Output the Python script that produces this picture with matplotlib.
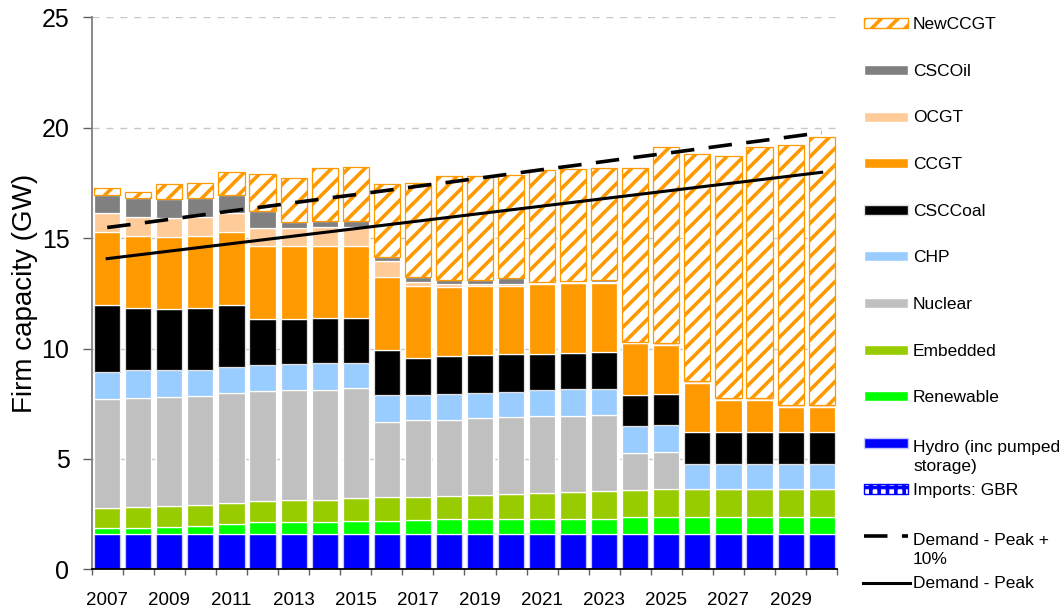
import matplotlib.pyplot as plt
import numpy as np
from matplotlib.patches import Rectangle


years = list(range(2007, 2031))

# capacity by type (GW), bottom of the stack first
imports_gbr = [0.0] * 24
hydro = [1.6] * 24
renewable = [0.26, 0.26, 0.30, 0.35, 0.44, 0.56, 0.56, 0.56, 0.60, 0.60, 0.63, 0.66,
             0.66, 0.66, 0.69, 0.69, 0.69, 0.76, 0.76, 0.76, 0.76, 0.76, 0.76, 0.76]
embedded = [0.90, 0.95, 0.95, 0.95, 0.96, 0.93, 0.99, 0.99, 1.01, 1.06, 1.03, 1.06,
            1.10, 1.15, 1.16, 1.22, 1.25, 1.23, 1.26, 1.29, 1.29, 1.29, 1.29, 1.29]
nuclear = [4.97, 4.97, 4.97, 4.97, 4.99, 5.00, 4.97, 4.97, 5.02, 3.42, 3.48, 3.46,
           3.48, 3.48, 3.48, 3.42, 3.44, 1.69, 1.70, 0.0, 0.0, 0.0, 0.0, 0.0]
chp = [1.22, 1.23, 1.19, 1.17, 1.19, 1.18, 1.19, 1.24, 1.13, 1.22, 1.16, 1.18,
       1.15, 1.16, 1.18, 1.22, 1.20, 1.20, 1.21, 1.11, 1.11, 1.11, 1.11, 1.11]
csc_coal = [3.00, 2.84, 2.79, 2.81, 2.81, 2.08, 2.04, 2.03, 2.03, 2.05, 1.69, 1.68,
            1.70, 1.69, 1.64, 1.65, 1.66, 1.40, 1.40, 1.47, 1.47, 1.47, 1.47, 1.47]
ccgt = [3.34, 3.26, 3.27, 3.26, 3.30, 3.27, 3.27, 3.27, 3.27, 3.28, 3.26, 3.14,
        3.13, 3.11, 3.18, 3.17, 3.12, 2.37, 2.24, 2.23, 1.46, 1.46, 1.12, 1.12]
ocgt = [0.86, 0.86, 0.86, 0.86, 0.86, 0.85, 0.85, 0.86, 0.86, 0.72, 0.18, 0.13,
        0.09, 0.09, 0.03, 0.03, 0.06, 0.02, 0.08, 0.05, 0.06, 0.06, 0.08, 0.08]
csc_oil = [0.82, 0.85, 0.82, 0.85, 0.82, 0.77, 0.24, 0.24, 0.24, 0.21, 0.23, 0.21,
           0.21, 0.26, 0.04, 0.04, 0.06, 0.02, 0.02, 0.02, 0.02, 0.02, 0.02, 0.02]
new_ccgt = [0.30, 0.28, 0.70, 0.67, 1.02, 1.66, 2.01, 2.41, 2.46, 3.29, 4.23, 4.67,
            4.70, 4.67, 5.07, 5.10, 5.09, 7.88, 8.85, 10.28, 10.96, 11.35, 11.76, 12.14]

demand_peak = [14.07, 14.24, 14.41, 14.58, 14.75, 14.92, 15.09, 15.26, 15.43, 15.60,
               15.77, 15.94, 16.11, 16.28, 16.45, 16.62, 16.79, 16.96, 17.13, 17.30,
               17.47, 17.64, 17.81, 17.98]
demand_peak_10 = [15.48, 15.66, 15.85, 16.04, 16.23, 16.41, 16.60, 16.79, 16.97, 17.16,
                  17.35, 17.53, 17.72, 17.91, 18.10, 18.28, 18.47, 18.66, 18.84, 19.03,
                  19.22, 19.40, 19.59, 19.78]

ORANGE = "#FF9900"
# (label, values, face, edge, hatch)
SERIES = [
    ("Imports: GBR", imports_gbr, "white", "#0000FF", "++"),
    ("Hydro (inc pumped\nstorage)", hydro, "#0000FF", "#C8C8FF", None),
    ("Renewable", renewable, "#00FF00", "white", None),
    ("Embedded", embedded, "#99CC00", "white", None),
    ("Nuclear", nuclear, "#C0C0C0", "white", None),
    ("CHP", chp, "#99CCFF", "white", None),
    ("CSCCoal", csc_coal, "#000000", "#E0E0E0", None),
    ("CCGT", ccgt, ORANGE, "white", None),
    ("OCGT", ocgt, "#FFCC99", "white", None),
    ("CSCOil", csc_oil, "#808080", "white", None),
    ("NewCCGT", new_ccgt, "white", ORANGE, "//"),
]
DASHED_LW = 2.6
SOLID_LW = 2.2
LEGEND_FONT = 12.5

plt.rcParams["font.family"] = ["Liberation Sans", "DejaVu Sans"]
plt.rcParams["hatch.linewidth"] = 2.6

fig = plt.figure(figsize=(10.64, 6.10), dpi=100)
ax = fig.add_axes([91.7 / 1064, 40.7 / 610, 745.5 / 1064, 552.0 / 610])

x = np.arange(len(years))
bottom = np.zeros(len(years))
for label, values, face, edge, hatch in SERIES:
    vals = np.array(values)
    lw = 0 if label.startswith("Imports") else 0.9
    ax.bar(x, vals, width=0.84, bottom=bottom, color=face, edgecolor=edge,
           hatch=hatch, linewidth=lw, zorder=2)
    bottom += vals

ax.plot(x, demand_peak_10, color="black", linewidth=DASHED_LW, dashes=(6.5, 4.0), zorder=3)
ax.plot(x, demand_peak, color="black", linewidth=SOLID_LW, zorder=3)

ax.set_xlim(-0.5, len(years) - 0.5)
ax.set_ylim(0, 25)
ax.set_yticks(range(0, 26, 5))
ax.set_xticks(x[::2])
ax.set_xticklabels([str(y) for y in years[::2]], fontsize=13.5)
ax.set_xticks(np.arange(-0.5, len(years), 1.0), minor=True)
ax.tick_params(axis="x", which="major", length=0, pad=16)
ax.tick_params(axis="x", which="minor", length=4.5, color="#606060", width=1)
ax.tick_params(axis="y", length=6.5, pad=9.5, labelsize=18, color="#606060", width=1)
ax.yaxis.grid(True, linestyle=(0, (5, 5)), color="#C8C8C8", linewidth=1, zorder=0)
ax.set_axisbelow(True)
for side in ["top", "right"]:
    ax.spines[side].set_visible(False)
ax.spines["left"].set_color("#808080")
ax.spines["left"].set_linewidth(1.3)
ax.spines["bottom"].set_color("black")
ax.spines["bottom"].set_linewidth(1.3)
ax.set_ylabel("Firm capacity (GW)", fontsize=20)
ax.yaxis.set_label_coords(-0.072, 0.5)

# legend drawn by hand on its own axes (pixel units)
lg = fig.add_axes([840 / 1064, 0, 224 / 1064, 1])
lg.set_xlim(0, 224)
lg.set_ylim(610, 0)
lg.axis("off")


def legend_text(yc, label):
    # baseline of a multi-line text is the last line, so push it down
    extra = 22 * label.count("\n")
    lg.text(73, yc + 6 + extra, label, fontsize=LEGEND_FONT, va="baseline", ha="left",
            linespacing=1.3)


for i, (label, values, face, edge, hatch) in enumerate(reversed(SERIES)):
    yc = 23.3 + 46.6 * i
    lg.add_patch(Rectangle((24, yc - 5), 44, 10, facecolor=face, edgecolor=edge,
                           hatch=hatch, linewidth=1))
    legend_text(yc, label)

for j, (label, ls, lw) in enumerate([("Demand - Peak +\n10%", "dashed", DASHED_LW),
                                     ("Demand - Peak", "solid", SOLID_LW)]):
    yc = 23.3 + 46.6 * (11 + j)
    if ls == "dashed":
        lg.plot([24, 68], [yc, yc], color="black", linewidth=lw, dashes=(6.5, 4.0))
    else:
        lg.plot([23, 70], [yc, yc], color="black", linewidth=lw)
    legend_text(yc, label)

fig.savefig("out.png", dpi=100)
